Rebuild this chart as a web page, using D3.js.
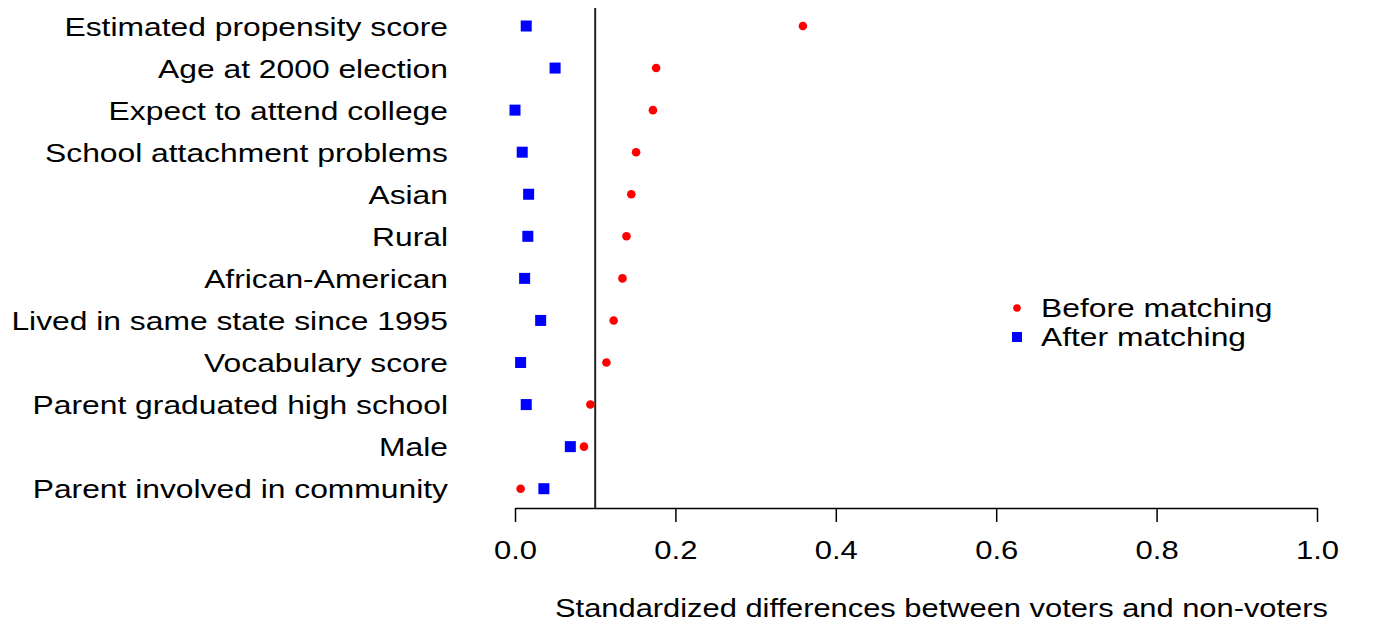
<!DOCTYPE html>
<html>
<head>
<meta charset="utf-8">
<script src="https://cdn.jsdelivr.net/npm/d3@7"></script>
<style>
  html, body { margin: 0; padding: 0; background: #fff; }
  svg { display: block; }
  text { font-family: "Liberation Sans", Arial, sans-serif; fill: #000; }
</style>
</head>
<body>
<svg id="chart" width="1376" height="625"></svg>
<script>
const categories = [
  "Estimated propensity score",
  "Age at 2000 election",
  "Expect to attend college",
  "School attachment problems",
  "Asian",
  "Rural",
  "African-American",
  "Lived in same state since 1995",
  "Vocabulary score",
  "Parent graduated high school",
  "Male",
  "Parent involved in community"
];
const beforeMatching = [0.359, 0.176, 0.172, 0.151, 0.145, 0.139, 0.134, 0.123, 0.114, 0.094, 0.086, 0.007];
const afterMatching  = [0.014, 0.050, 0.000, 0.009, 0.017, 0.016, 0.012, 0.032, 0.007, 0.014, 0.069, 0.036];
const xTicks = [0.0, 0.2, 0.4, 0.6, 0.8, 1.0];
const refLine = 0.1;
const seriesNames = ["Before matching", "After matching"];
const seriesColors = ["#ff0000", "#0000ff"];
const xTitle = "Standardized differences between voters and non-voters";

const svg = d3.select("#chart");
const fontSize = 26.5;
const sx = 1.2; // horizontal stretch of glyphs in the reference

const x = d3.scaleLinear().domain([0, 1]).range([515, 1317]);
const y = d3.scalePoint().domain(categories).range([26, 488.7]);
const axisY = 508;

function stretchedText(g, px, py, anchor, str, s) {
  return g.append("text")
    .attr("transform", `translate(${px},${py}) scale(${s || sx},1)`)
    .attr("text-anchor", anchor)
    .attr("font-size", fontSize)
    .text(str);
}

// Axis
const xAxis = d3.axisBottom(x).tickValues(xTicks).tickFormat(d3.format(".1f")).tickSize(14).tickSizeOuter(0);
const gx = svg.append("g").attr("transform", `translate(0,${axisY})`).call(xAxis);
gx.select(".domain").attr("stroke", "#000").attr("stroke-width", 1.5);
gx.selectAll(".tick line").attr("stroke", "#000").attr("stroke-width", 1.5);
gx.selectAll(".tick text")
  .attr("font-family", '"Liberation Sans", Arial, sans-serif')
  .attr("font-size", fontSize)
  .attr("fill", "#000")
  .attr("dy", null)
  .attr("y", null)
  .attr("transform", `translate(0,51) scale(1.17,1)`);

// Reference line
svg.append("line")
  .attr("x1", x(refLine)).attr("x2", x(refLine))
  .attr("y1", 8).attr("y2", axisY)
  .attr("stroke", "#222").attr("stroke-width", 2);

// Category labels
const gl = svg.append("g");
categories.forEach(c => stretchedText(gl, 448, y(c) + 9.5, "end", c));

// After matching squares
const sq = 11;
svg.append("g").selectAll("rect").data(afterMatching).join("rect")
  .attr("x", d => x(d) - sq / 2)
  .attr("y", (d, i) => y(categories[i]) - sq / 2)
  .attr("width", sq).attr("height", sq)
  .attr("fill", seriesColors[1]);

// Before matching dots
svg.append("g").selectAll("circle").data(beforeMatching).join("circle")
  .attr("cx", d => x(d))
  .attr("cy", (d, i) => y(categories[i]))
  .attr("r", 4.3)
  .attr("fill", seriesColors[0]);

// Axis title
stretchedText(svg, 941.5, 617, "middle", xTitle, 1.165);

// Legend
const lg = svg.append("g");
const legendY = [308, 337];
lg.append("circle").attr("cx", 1017).attr("cy", legendY[0]).attr("r", 3.8).attr("fill", seriesColors[0]);
lg.append("rect").attr("x", 1017 - 5).attr("y", legendY[1] - 5).attr("width", 10).attr("height", 10).attr("fill", seriesColors[1]);
seriesNames.forEach((s, i) => stretchedText(lg, 1041, legendY[i] + 9, "start", s));
</script>
</body>
</html>
